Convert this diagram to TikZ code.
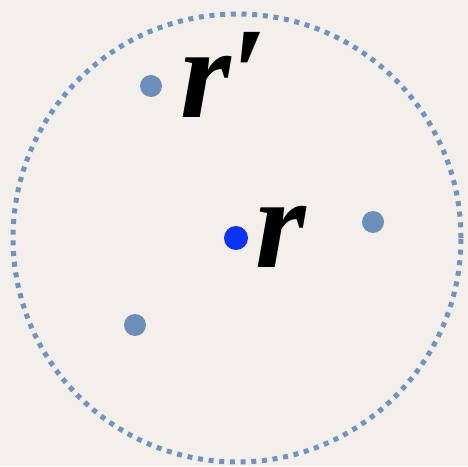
\documentclass[tikz,border=0pt]{standalone}
\usepackage{fontspec}
\setmainfont{Liberation Serif}
\definecolor{bg}{HTML}{F3F0EB}
\definecolor{steel}{HTML}{6B8EBA}
\definecolor{ring}{HTML}{7193C0}
\definecolor{vivid}{HTML}{0A32F8}
\begin{document}
\begin{tikzpicture}[x=1pt,y=1pt,
  pt/.style={circle,inner sep=0pt,minimum size=22pt,fill=steel},
  lab/.style={font=\fontsize{130}{130}\selectfont\bfseries\itshape,inner sep=0pt,anchor=base west}]
\fill[bg] (0,0) rectangle (468,466);
\useasboundingbox (0,0) rectangle (468,466);
\node[circle,inner sep=0pt,minimum size=448pt,draw=ring,line width=5pt,dash pattern=on 5pt off 5.7pt] (ring) at (237,228) {};
\node[pt] (a) at (151,380) {};
\node[pt] (b) at (373,244) {};
\node[pt] (c) at (135,141) {};
\node[pt,fill=vivid,minimum size=24pt] (o) at (236,228) {};
\node[lab] (rl) at (255,198) {r};
\node[lab] (rpl) at (180,348) {r′};
\end{tikzpicture}
\end{document}
